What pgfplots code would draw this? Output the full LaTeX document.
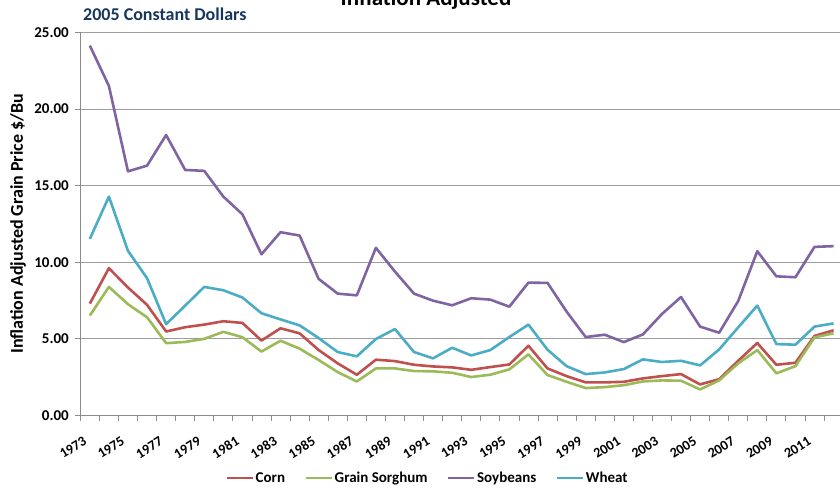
\documentclass[border=0pt]{standalone}
\usepackage{fontspec}
\setmainfont{Carlito}
\usepackage{pgfplots}
\pgfplotsset{compat=1.18}
\usepackage{pgfplotstable}
\definecolor{corn}{HTML}{C0504D}
\definecolor{sorg}{HTML}{9BBB59}
\definecolor{soy}{HTML}{8064A2}
\definecolor{wheat}{HTML}{4BACC6}
\definecolor{navy}{RGB}{23,54,93}
\definecolor{axgray}{HTML}{8C8C8C}
\pgfplotstableread{
year corn sorghum soy wheat
1973 7.30 6.52 24.13 11.52
1974 9.61 8.39 21.50 14.28
1975 8.35 7.26 15.93 10.74
1976 7.22 6.41 16.30 8.96
1977 5.48 4.72 18.30 5.96
1978 5.76 4.80 16.02 7.17
1979 5.93 5.00 15.96 8.39
1980 6.15 5.46 14.28 8.17
1981 6.04 5.11 13.13 7.70
1982 4.89 4.17 10.52 6.67
1983 5.69 4.88 11.96 6.27
1984 5.36 4.36 11.74 5.88
1985 4.27 3.62 8.91 5.05
1986 3.40 2.83 7.95 4.14
1987 2.66 2.22 7.84 3.86
1988 3.64 3.07 10.94 4.99
1989 3.55 3.07 9.39 5.64
1990 3.31 2.90 7.95 4.14
1991 3.20 2.88 7.49 3.73
1992 3.14 2.79 7.19 4.42
1993 2.98 2.51 7.65 3.92
1994 3.16 2.66 7.56 4.27
1995 3.33 3.01 7.10 5.12
1996 4.55 3.99 8.67 5.93
1997 3.07 2.64 8.65 4.29
1998 2.57 2.20 6.78 3.22
1999 2.16 1.79 5.12 2.70
2000 2.16 1.85 5.27 2.81
2001 2.20 1.98 4.79 3.03
2002 2.42 2.22 5.29 3.66
2003 2.57 2.29 6.62 3.49
2004 2.70 2.27 7.73 3.57
2005 2.03 1.70 5.80 3.27
2006 2.37 2.29 5.40 4.31
2007 3.57 3.40 7.47 5.75
2008 4.73 4.27 10.72 7.17
2009 3.31 2.75 9.08 4.66
2010 3.44 3.22 9.02 4.62
2011 5.19 5.10 11.00 5.80
2012 5.56 5.36 11.05 6.01
}\data
\begin{document}
\begin{tikzpicture}
\path[use as bounding box] (0pt,0pt) rectangle (840pt,491pt);
\clip (0pt,0pt) rectangle (840pt,491pt);
\begin{axis}[
  at={(80.3pt,75.5pt)}, anchor=south west,
  width=762.8pt, height=383.2pt, scale only axis,
  xmin=-0.5, xmax=39.5, ymin=0, ymax=25,
  axis x line*=bottom, axis y line*=left,
  axis line style={axgray, line width=0.8pt},
  ytick={0,5,10,15,20,25},
  ymajorgrids, grid style={axgray!85, line width=0.8pt},
  tick align=outside, major tick length=5pt, minor tick length=5pt,
  y tick style={axgray, line width=0.8pt},
  xtick={0,2,...,38},
  xticklabels={1973,1975,1977,1979,1981,1983,1985,1987,1989,1991,1993,1995,1997,1999,2001,2003,2005,2007,2009,2011},
  minor xtick={-0.5,0.5,...,39.5},
  major x tick style={draw=none},
  minor x tick style={axgray, line width=0.8pt},
  yticklabel style={font=\bfseries\fontsize{15}{17}\selectfont, xshift=-3pt,
    /pgf/number format/fixed, /pgf/number format/fixed zerofill,
    /pgf/number format/precision=2, /pgf/number format/assume math mode=true},
  xticklabel style={rotate=32, anchor=east, font=\bfseries\fontsize{14}{16}\selectfont, yshift=-14pt, xshift=-11pt},
  ylabel={Inflation Adjusted Grain Price \$/Bu},
  ylabel style={at={(axis description cs:-0.0817,0.5)}, anchor=center, font=\bfseries\fontsize{18}{20}\selectfont},
  no markers,
  legend columns=4,
  legend style={at={(0.455,-0.163)}, anchor=center, draw=none, fill=none,
    font=\bfseries\fontsize{15}{17}\selectfont,
    /tikz/every even column/.append style={column sep=18pt},
    nodes={inner sep=1.5pt}},
  legend image code/.code={\draw[#1, line width=2.6pt] (0pt,0pt) -- (26pt,0pt);},
]
\addplot[corn, line width=2.6pt, line join=round] table[x expr=\thisrow{year}-1973, y=corn] {\data};
\addlegendentry{Corn}
\addplot[sorg, line width=2.6pt, line join=round] table[x expr=\thisrow{year}-1973, y=sorghum] {\data};
\addlegendentry{Grain Sorghum}
\addplot[soy, line width=2.6pt, line join=round] table[x expr=\thisrow{year}-1973, y=soy] {\data};
\addlegendentry{Soybeans}
\addplot[wheat, line width=2.6pt, line join=round] table[x expr=\thisrow{year}-1973, y=wheat] {\data};
\addlegendentry{Wheat}
\end{axis}
\node[anchor=base, font=\bfseries\fontsize{23}{26}\selectfont, inner sep=0pt] at (426pt,485pt) {Inflation Adjusted};
\node[anchor=west, text=navy, font=\bfseries\fontsize{18}{20}\selectfont, inner sep=0pt] at (83pt,477pt) {2005 Constant Dollars};
\end{tikzpicture}
\end{document}
